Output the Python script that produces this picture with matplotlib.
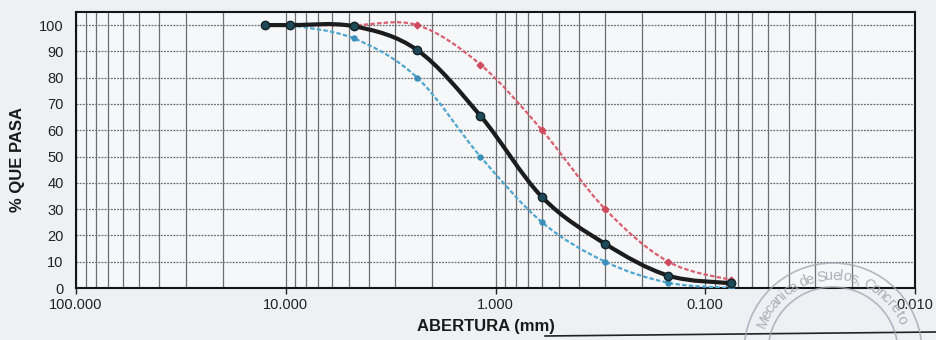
import numpy as np
import matplotlib
matplotlib.use("Agg")
import matplotlib.pyplot as plt
from matplotlib.path import Path
from matplotlib.patches import PathPatch, Circle
from matplotlib.ticker import FixedLocator, FuncFormatter, NullFormatter

plt.rcParams['font.family'] = ['Liberation Sans Narrow', 'Liberation Sans', 'DejaVu Sans']

# Sieve openings (mm) and percent passing
sieve_mm = [12.5, 9.5, 4.75, 2.36, 1.18, 0.60, 0.30, 0.15, 0.075]
passing = [100, 100, 99.6, 90.5, 65.5, 34.6, 16.8, 4.7, 1.8]

# Gradation band limits
limit_mm = [9.5, 4.75, 2.36, 1.18, 0.60, 0.30, 0.15, 0.075]
upper_limit = [100, 100, 100, 85, 60, 30, 10, 3]
lower_limit = [100, 95, 80, 50, 25, 10, 2, 0]

x_major = [100, 10, 1, 0.1, 0.01]
y_ticks = list(range(0, 101, 10))

stamp_text = "Mecanica de Suelos, Concreto"


def smooth_curve(xs, ys):
    """Cubic Bezier path through the points, built in log10(x) space."""
    u = np.log10(np.asarray(xs, float))
    v = np.asarray(ys, float)
    pts = np.column_stack([u, v])
    n = len(pts)
    verts = [pts[0]]
    codes = [Path.MOVETO]
    for i in range(n - 1):
        p0 = pts[max(i - 1, 0)]
        p1 = pts[i]
        p2 = pts[i + 1]
        p3 = pts[min(i + 2, n - 1)]
        c1 = p1 + (p2 - p0) / 6.0
        c2 = p2 - (p3 - p1) / 6.0
        verts += [c1, c2, p2]
        codes += [Path.CURVE4] * 3
    verts = np.array(verts)
    verts[:, 0] = 10 ** verts[:, 0]
    return Path(verts, codes)


W, H = 936, 340
fig = plt.figure(figsize=(W / 100, H / 100), dpi=100)
fig.patch.set_facecolor('#eef0f3')
ax = fig.add_axes([76 / W, 1 - 288 / H, 839 / W, 276 / H])
ax.set_facecolor('#f6f7f9')

ax.set_xscale('log')
ax.set_xlim(100, 0.01)
ax.set_ylim(0, 105)

# Grid: solid verticals at every log step, dotted horizontals every 10 %
minor = [m * 10.0 ** e for e in range(-2, 2) for m in range(2, 10)]
for xv in list(x_major) + minor:
    ax.axvline(xv, color='#6e6e6e', lw=0.9, zorder=1)
for yv in y_ticks:
    ax.axhline(yv, color='#6a6a6a', lw=0.9, ls=(0, (1.5, 1)), zorder=1)

ax.xaxis.set_major_locator(FixedLocator(x_major))
ax.xaxis.set_major_formatter(FuncFormatter(lambda v, p: f"{v:.3f}"))
ax.xaxis.set_minor_locator(FixedLocator(minor))
ax.xaxis.set_minor_formatter(NullFormatter())
ax.set_yticks(y_ticks)

ax.tick_params(axis='x', which='major', length=4, width=1, pad=3,
               labelsize=10.5, colors='#222222')
ax.tick_params(axis='x', which='minor', length=0)
ax.tick_params(axis='y', length=0, pad=9, labelsize=10.5, colors='#222222')

for s in ax.spines.values():
    s.set_color('#151515')
    s.set_linewidth(1.5)

# Upper limit (red, dashed)
ax.add_patch(PathPatch(smooth_curve(limit_mm, upper_limit), fill=False,
                       edgecolor='#d9606f', lw=1.6, ls=(0, (2, 1)), zorder=3))
ax.plot(limit_mm, upper_limit, ls='none', marker='D', ms=3.4,
        mfc='#cf4a5e', mec='#cf4a5e', zorder=5)

# Lower limit (blue, dashed)
ax.add_patch(PathPatch(smooth_curve(limit_mm, lower_limit), fill=False,
                       edgecolor='#4fa6cf', lw=1.6, ls=(0, (2, 1)), zorder=3))
ax.plot(limit_mm, lower_limit, ls='none', marker='o', ms=3.6,
        mfc='#3a8fbb', mec='#3a8fbb', zorder=5)

# Sample gradation (black, solid)
ax.add_patch(PathPatch(smooth_curve(sieve_mm, passing), fill=False,
                       edgecolor='#1c1c1c', lw=3.0, zorder=4,
                       capstyle='round', joinstyle='round'))
ax.plot(sieve_mm, passing, ls='none', marker='o', ms=6,
        mfc='#1e4a57', mec='#0f2329', mew=1.0, zorder=6)

fig.text(18 / W, 1 - 160 / H, '% QUE PASA', rotation=90,
         ha='center', va='center', fontsize=12, fontweight='bold',
         color='#1a1a1a')
fig.text(486 / W, 1 - 327 / H, 'ABERTURA (mm)', ha='center',
         va='center', fontsize=12, fontweight='bold', color='#1a1a1a')

# Table rule beneath the chart
fig.add_artist(plt.Line2D([545 / W, 1.0], [1 - 336 / H, 1 - 332 / H],
                          transform=fig.transFigure, color='#222222', lw=1.2))

# Laboratory stamp (faint, lower right)
cx, cy = 833.0, 352.0
stamp_col = '#9ea4ae'
for r in (89, 65):
    fig.add_artist(Circle((cx / 100, (H - cy) / 100), r / 100,
                          transform=fig.dpi_scale_trans, fill=False,
                          edgecolor=stamp_col, lw=1.2, alpha=0.75, zorder=20))

# Lay the characters out along the arc by approximate advance width
def char_w(c):
    if c in " ,il":
        return 0.32
    if c.isupper():
        return 0.72
    return 0.56

widths = np.array([char_w(c) for c in stamp_text])
centers = np.cumsum(widths) - widths / 2
frac = centers / widths.sum()
a_start, a_end = 160.0, 22.0
r_text = 76.0
for ch, f in zip(stamp_text, frac):
    a = a_start + (a_end - a_start) * f
    t = np.deg2rad(a)
    px = cx + r_text * np.cos(t)
    py = cy - r_text * np.sin(t)
    fig.text(px / W, 1 - py / H, ch, rotation=a - 90, ha='center',
             va='center', fontsize=10.5, color=stamp_col, alpha=0.85,
             rotation_mode='anchor', zorder=20)

fig.savefig('out.png', dpi=100, facecolor=fig.get_facecolor())
